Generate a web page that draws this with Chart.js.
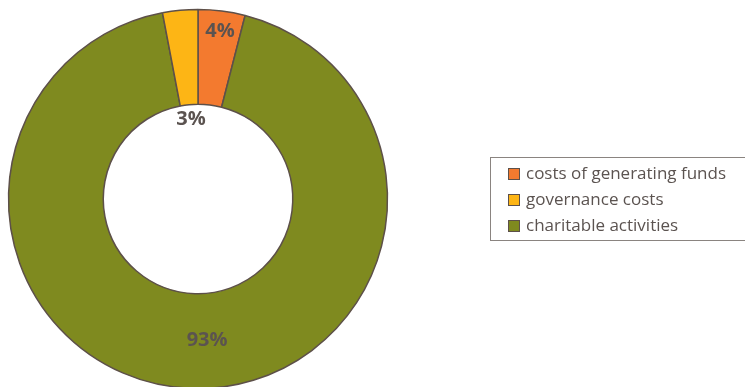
<!DOCTYPE html>
<html>
<head>
<meta charset="utf-8">
<script src="https://cdn.jsdelivr.net/npm/chart.js@4/dist/chart.umd.min.js"></script>
<style>
  html, body { margin: 0; padding: 0; background: #fff; overflow: hidden; }
  #wrap { position: relative; width: 745px; height: 387px; }
  #spend-ring { position: absolute; left: 0; top: 0; }
  #spend-legend {
    position: absolute; left: 490px; top: 157px; width: 270px; height: 84px;
    border: 1px solid #8a8480; box-sizing: border-box;
    font-family: "Open Sans", sans-serif; font-size: 17px; color: #5b5350;
    padding-top: 2px;
  }
  #spend-legend div { height: 26px; line-height: 26px; padding-left: 17px; white-space: nowrap; }
  #spend-legend span {
    display: inline-block; width: 10px; height: 10px; margin-right: 6px;
    border: 1px solid #5d5049; vertical-align: -1px;
  }
</style>
</head>
<body>
<div id="wrap">
  <canvas id="spend-ring" width="745" height="398"></canvas>
  <div id="spend-legend"></div>
</div>
<script>
const ringDiv = document.getElementById('spend-ring')
const legendDiv = document.getElementById('spend-legend')

// legend order
const categories = ['costs of generating funds', 'governance costs', 'charitable activities']
const shares = [4, 3, 93]
const colours = ['#f37a2f', '#fdb515', '#7f8a1f']

// clockwise order round the ring, starting at 12 o'clock
const ringOrder = [0, 2, 1]

// where each percentage sits (legend order): fraction of outer radius, nudge in degrees
const labelSpots = [
    { r: 0.89, turn: 0.3 },
    { r: 0.42, turn: 0.3 },
    { r: 0.745, turn: -5.5 }
]

const valueLabels = {
    id: 'valueLabels',
    afterDatasetsDraw(chart, args, opts) {
        const ctx = chart.ctx
        const ds = chart.data.datasets[0]
        ctx.save()
        ctx.font = opts.font
        ctx.fillStyle = opts.color
        ctx.textAlign = 'center'
        ctx.textBaseline = 'middle'
        chart.getDatasetMeta(0).data.forEach((arc, i) => {
            const spot = opts.spots[i]
            const a = (arc.startAngle + arc.endAngle) / 2 + spot.turn * Math.PI / 180
            const r = arc.outerRadius * spot.r
            ctx.fillText(ds.data[i] + '%', arc.x + Math.cos(a) * r, arc.y + Math.sin(a) * r)
        })
        ctx.restore()
    }
}

new Chart(ringDiv, {
    type: 'doughnut',
    data: {
        labels: ringOrder.map(i => categories[i]),
        datasets: [{
            data: ringOrder.map(i => shares[i]),
            backgroundColor: ringOrder.map(i => colours[i]),
            borderColor: '#5d5049',
            borderWidth: 1.5
        }]
    },
    options: {
        responsive: false,
        animation: false,
        cutout: '50%',
        layout: {
            padding: { left: 7.75, right: 356.75, top: 0, bottom: 0 }
        },
        plugins: {
            legend: { display: false },
            tooltip: { enabled: false },
            valueLabels: {
                font: 'bold 20px "Open Sans", sans-serif',
                color: '#5b5350',
                spots: ringOrder.map(i => labelSpots[i])
            }
        }
    },
    plugins: [valueLabels]
})

// legend built from the same arrays
categories.forEach((name, i) => {
    const row = document.createElement('div')
    const box = document.createElement('span')
    box.style.background = colours[i]
    row.appendChild(box)
    row.appendChild(document.createTextNode(name))
    legendDiv.appendChild(row)
})
</script>
</body>
</html>
